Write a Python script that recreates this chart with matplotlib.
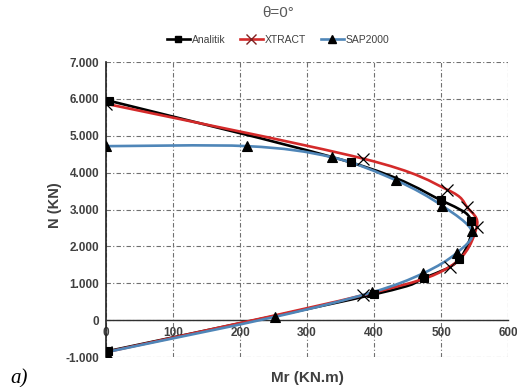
import numpy as np
import matplotlib
matplotlib.use("Agg")
import matplotlib.pyplot as plt
from matplotlib.path import Path
from matplotlib.patches import PathPatch
from matplotlib.lines import Line2D
from matplotlib.ticker import FuncFormatter

# data (Mr in KN.m, N in KN)
analitik_m = [5, 365, 500, 545, 527, 475, 400, 3]
analitik_n = [5950, 4280, 3250, 2680, 1650, 1150, 700, -840]

xtract_m = [0, 384, 509, 539, 553, 513, 384, 0]
xtract_n = [5870, 4380, 3540, 3060, 2525, 1450, 680, -870]

sap_m = [0, 211, 337, 433, 501, 546, 523, 473, 397, 252, 0]
sap_n = [4720, 4720, 4420, 3790, 3110, 2405, 1820, 1270, 755, 90, -870]

x_ticks = [0, 100, 200, 300, 400, 500, 600]
y_ticks = [-1000, 0, 1000, 2000, 3000, 4000, 5000, 6000, 7000]

txt = '#404040'
plt.rcParams['font.family'] = ['Liberation Sans', 'DejaVu Sans']


def smooth_path(xs, ys):
    # excel style smoothed line: cubic bezier through the points
    p = np.column_stack([xs, ys]).astype(float)
    ext = np.vstack([p[0], p, p[-1]])
    verts = [p[0]]
    codes = [Path.MOVETO]
    for i in range(1, len(ext) - 2):
        p0, p1, p2, p3 = ext[i - 1], ext[i], ext[i + 1], ext[i + 2]
        verts += [p1 + (p2 - p0) / 6, p2 - (p3 - p1) / 6, p2]
        codes += [Path.CURVE4] * 3
    return Path(verts, codes)


fig = plt.figure(figsize=(5.17, 3.87), dpi=100)
ax = fig.add_axes([0.205, 0.0775, 0.778, 0.762])

series = [
    (analitik_m, analitik_n, 'black', 's', 6, 'Analitik'),
    (xtract_m, xtract_n, '#d42a2a', 'x', 8, 'XTRACT'),
    (sap_m, sap_n, '#4f86b8', '^', 7, 'SAP2000'),
]
handles = []
for xs, ys, col, mk, ms, lab in series:
    ax.add_patch(PathPatch(smooth_path(xs, ys), fill=False, edgecolor=col,
                           lw=1.9, zorder=3))
    ax.plot(xs, ys, linestyle='none', marker=mk, ms=ms, color='black',
            mew=0.9 if mk == 'x' else 0.8, zorder=4)
    handles.append(Line2D([], [], color=col, lw=1.9, marker=mk, ms=ms - 1,
                          mfc='black', mec='black' if mk != 'x' else '#802020'))

ax.set_xlim(0, 600)
ax.set_ylim(-1000, 7000)
ax.set_xticks(x_ticks)
ax.set_yticks(y_ticks)
ax.yaxis.set_major_formatter(FuncFormatter(lambda v, p: f"{v:,.0f}".replace(',', '.')))

ax.grid(True, color='#707070', lw=0.8, linestyle=(0, (4, 2, 1, 2)))
ax.set_axisbelow(True)
for s in ['top', 'right']:
    ax.spines[s].set_visible(False)
ax.spines['bottom'].set_position(('data', 0))
ax.spines['bottom'].set_color('#303030')
ax.spines['bottom'].set_linewidth(1.0)
ax.spines['left'].set_color('#202020')
ax.spines['left'].set_linewidth(1.2)
ax.tick_params(length=0, labelsize=8.5, labelcolor=txt, pad=5)
for t in ax.get_xticklabels() + ax.get_yticklabels():
    t.set_fontweight('bold')

ax.set_xlabel('Mr (KN.m)', fontsize=11, fontweight='bold', color=txt)
ax.xaxis.set_label_coords(0.5, -0.047)
ax.set_ylabel('N (KN)', fontsize=10.5, fontweight='bold', color=txt)
ax.yaxis.set_label_coords(-0.11, 0.515)

fig.text(0.538, 0.966, 'θ=0°', ha='center', va='center', fontsize=11,
         color='#595959')
fig.legend(handles=handles, labels=[h for *_, h in series], loc='center',
           bbox_to_anchor=(0.538, 0.897), ncol=3, frameon=False, fontsize=7.5,
           handlelength=2.2, columnspacing=1.4, handletextpad=0.2,
           labelcolor=txt)

fig.text(0.02, 0.022, 'a)', fontsize=15, style='italic',
         family=['Liberation Serif', 'DejaVu Serif'], ha='left', va='center')

fig.savefig('out.png', dpi=100)
